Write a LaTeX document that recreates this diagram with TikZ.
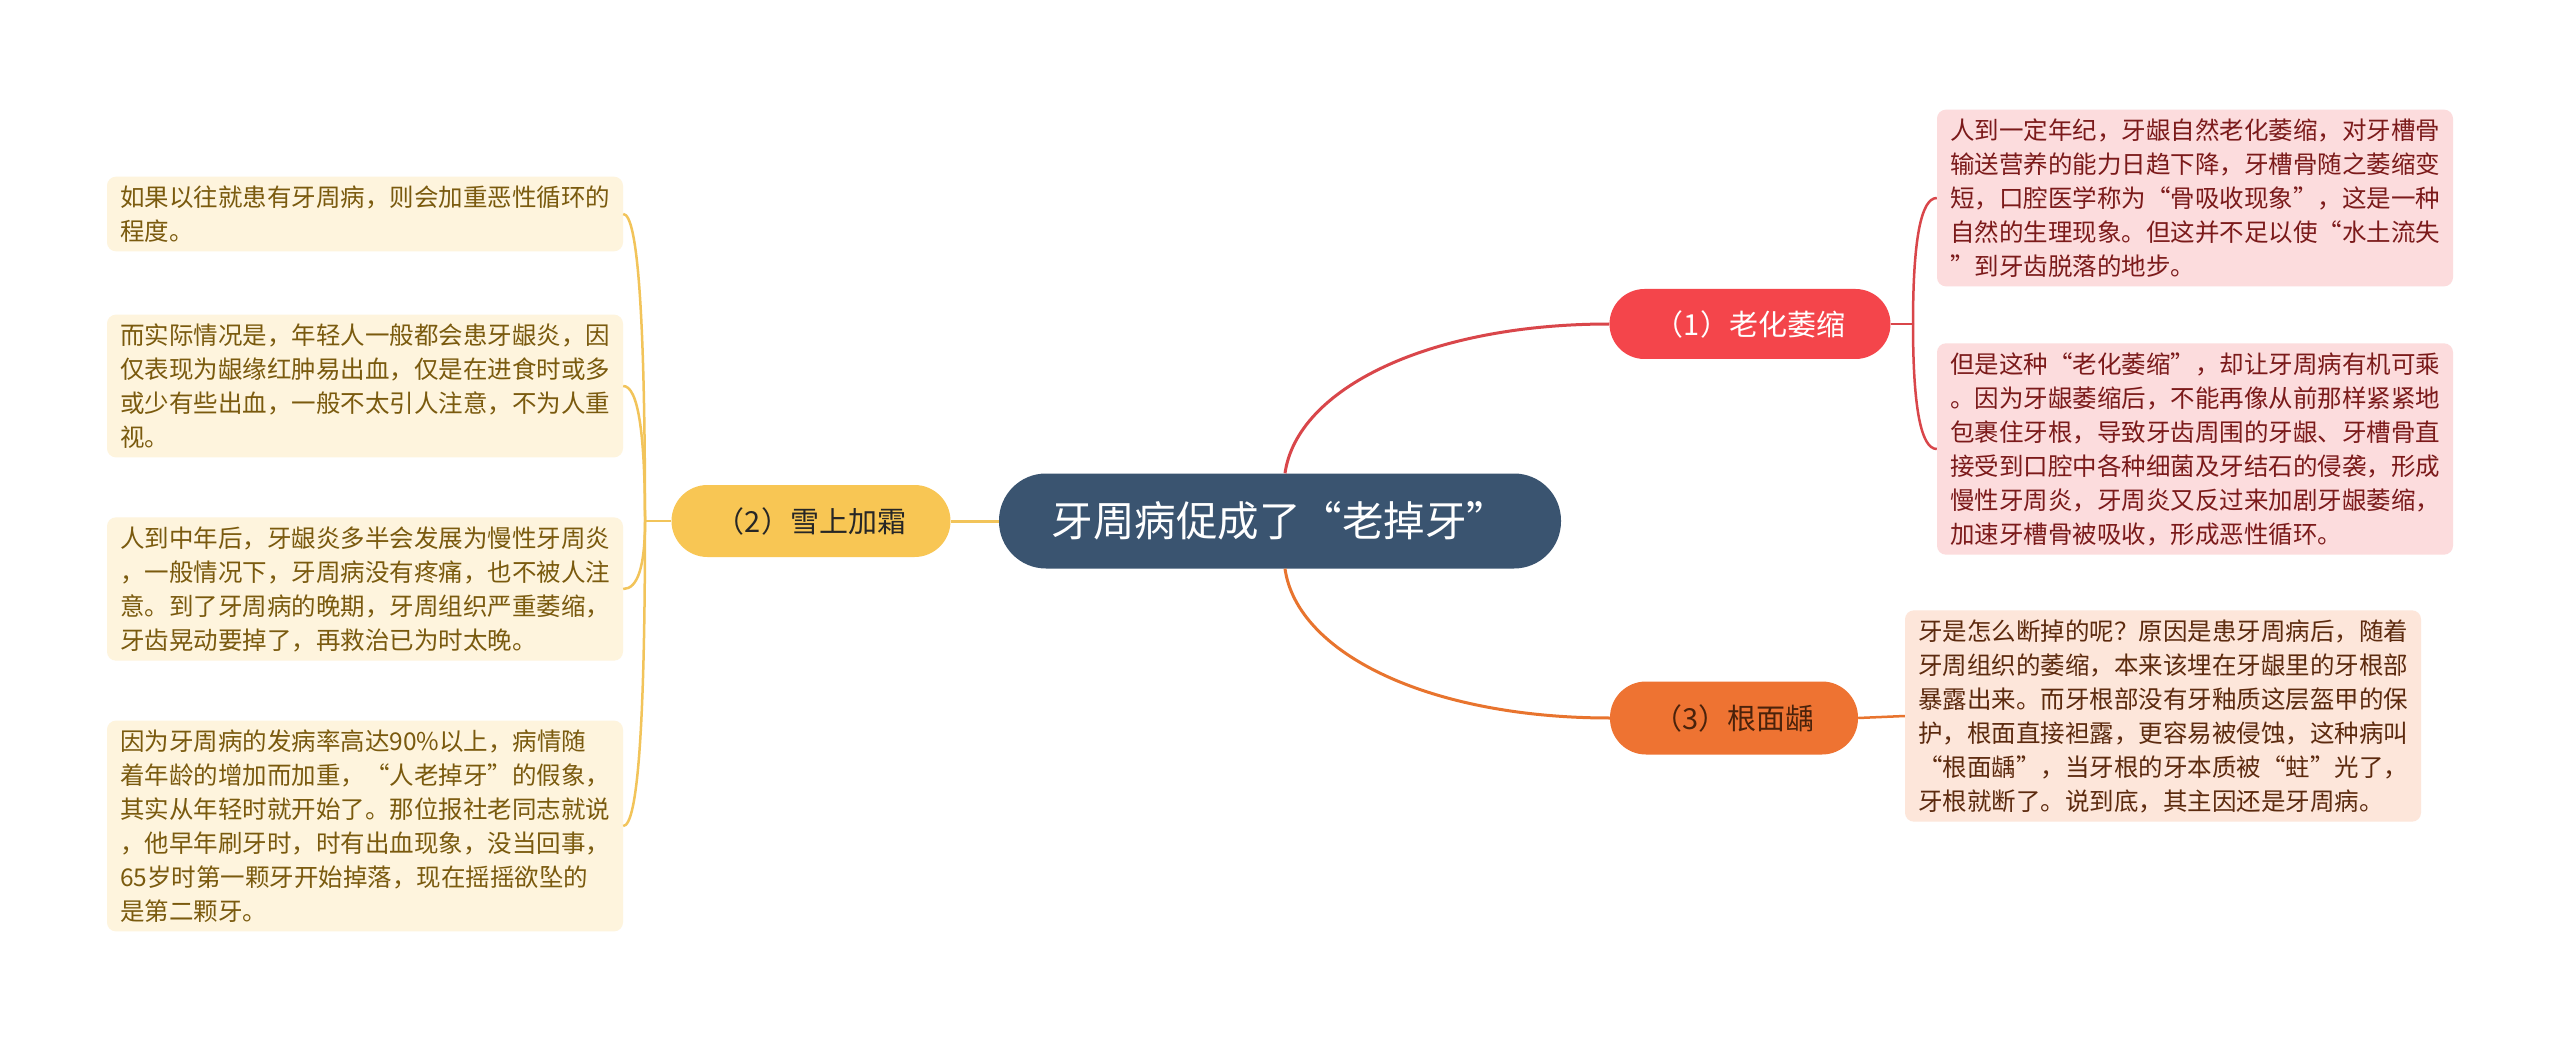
\documentclass[tikz,border=0pt]{standalone}
\usepackage{fontspec}
\usetikzlibrary{calc}
\setmainfont{Noto Sans CJK SC}
\definecolor{cmain}{HTML}{3A5470}
\definecolor{cred}{HTML}{F4454B}
\definecolor{credline}{HTML}{D9464A}
\definecolor{cyel}{HTML}{F8C654}
\definecolor{cyelline}{HTML}{F2C45A}
\definecolor{corg}{HTML}{EE7332}
\definecolor{corgline}{HTML}{E8742E}
\definecolor{credleaf}{HTML}{FCDCDD}
\definecolor{credtext}{HTML}{7B1A1A}
\definecolor{corgleaf}{HTML}{FDE6DA}
\definecolor{corgtext}{HTML}{5C2A0E}
\definecolor{cyelleaf}{HTML}{FEF4DD}
\definecolor{cyeltext}{HTML}{7A5A0E}
\begin{document}
\begin{tikzpicture}[x=1pt,y=-1pt,
  pill/.style={rounded corners=#1, inner sep=0pt, align=center},
  leaf/.style={rounded corners=9pt, inner xsep=13pt, inner ysep=9pt, text width=490pt, align=left,
    font=\fontsize{24.5pt}{34pt}\selectfont},
  mainline/.style={line width=3pt},
  leafline/.style={line width=2.5pt}]
\useasboundingbox[fill=white] (0,0) rectangle (2560,1040);

% central
\node[pill=47pt, fill=cmain, text=white, minimum width=562pt, minimum height=95pt,
  font=\fontsize{41.5pt}{46pt}\selectfont] (C) at (1280,521) {牙周病促成了“老掉牙”};

% first-level
\node[pill=35pt, fill=cred, text=white, minimum width=281pt, minimum height=70pt,
  font=\fontsize{29pt}{32pt}\selectfont] (N1) at (1750,324) {（1）老化萎缩};
\node[pill=36pt, fill=cyel, text=black!85, minimum width=279pt, minimum height=72pt,
  font=\fontsize{29pt}{32pt}\selectfont] (N2) at (811,521) {（2）雪上加霜};
\node[pill=36pt, fill=corg, text=corgtext!80!black, minimum width=248pt, minimum height=73pt,
  font=\fontsize{29pt}{32pt}\selectfont] (N3) at (1734,718) {（3）根面龋};

% red leaves
\node[leaf, fill=credleaf, text=credtext] (R1) at (2195,198) {人到一定年纪，牙龈自然老化萎缩，对牙槽骨\\输送营养的能力日趋下降，牙槽骨随之萎缩变\\短，口腔医学称为“骨吸收现象”，这是一种\\自然的生理现象。但这并不足以使“水土流失\\”到牙齿脱落的地步。};
\node[leaf, fill=credleaf, text=credtext] (R2) at (2195,449) {但是这种“老化萎缩”，却让牙周病有机可乘\\。因为牙龈萎缩后，不能再像从前那样紧紧地\\包裹住牙根，导致牙齿周围的牙龈、牙槽骨直\\接受到口腔中各种细菌及牙结石的侵袭，形成\\慢性牙周炎，牙周炎又反过来加剧牙龈萎缩，\\加速牙槽骨被吸收，形成恶性循环。};

% orange leaf
\node[leaf, fill=corgleaf, text=corgtext] (O1) at (2163,716) {牙是怎么断掉的呢？原因是患牙周病后，随着\\牙周组织的萎缩，本来该埋在牙龈里的牙根部\\暴露出来。而牙根部没有牙釉质这层盔甲的保\\护，根面直接袒露，更容易被侵蚀，这种病叫\\“根面龋”，当牙根的牙本质被“蛀”光了，\\牙根就断了。说到底，其主因还是牙周病。};

% yellow leaves
\node[leaf, fill=cyelleaf, text=cyeltext] (Y1) at (365,214) {如果以往就患有牙周病，则会加重恶性循环的\\程度。};
\node[leaf, fill=cyelleaf, text=cyeltext] (Y2) at (365,386) {而实际情况是，年轻人一般都会患牙龈炎，因\\仅表现为龈缘红肿易出血，仅是在进食时或多\\或少有些出血，一般不太引人注意，不为人重\\视。};
\node[leaf, fill=cyelleaf, text=cyeltext] (Y3) at (365,589) {人到中年后，牙龈炎多半会发展为慢性牙周炎\\，一般情况下，牙周病没有疼痛，也不被人注\\意。到了牙周病的晚期，牙周组织严重萎缩，\\牙齿晃动要掉了，再救治已为时太晚。};
\node[leaf, fill=cyelleaf, text=cyeltext] (Y4) at (365,826) {因为牙周病的发病率高达90\%以上，病情随\\着年龄的增加而加重，“人老掉牙”的假象，\\其实从年轻时就开始了。那位报社老同志就说\\，他早年刷牙时，时有出血现象，没当回事，\\65岁时第一颗牙开始掉落，现在摇摇欲坠的\\是第二颗牙。};

% hubs
\coordinate (h1) at (1913,324);
\coordinate (h2) at (645,521);
\coordinate (c1) at ($(C.north)+(5,0)$);
\coordinate (c3) at ($(C.south)+(5,0)$);

% connectors
\draw[mainline, cyelline] (C.west) -- (N2.east);
\draw[mainline, credline] (c1) .. controls +(12,-85) and +(-180,0) .. (N1.west);
\draw[mainline, corgline] (c3) .. controls +(12,85) and +(-180,0) .. (N3.west);

\draw[leafline, credline] (N1.east) -- (h1);
\foreach \r in {R1,R2}
  \draw[leafline, credline] (h1) .. controls ($(h1)!0.667!(h1 |- \r.west)$) and ($(\r.west)!0.667!(h1 |- \r.west)$) .. (\r.west);

\draw[leafline, corgline] (N3.east) -- (O1.west);

\draw[leafline, cyelline] (N2.west) -- (h2);
\foreach \y in {Y1,Y2,Y3,Y4}
  \draw[leafline, cyelline] (h2) .. controls ($(h2)!0.667!(h2 |- \y.east)$) and ($(\y.east)!0.667!(h2 |- \y.east)$) .. (\y.east);
\end{tikzpicture}
\end{document}
